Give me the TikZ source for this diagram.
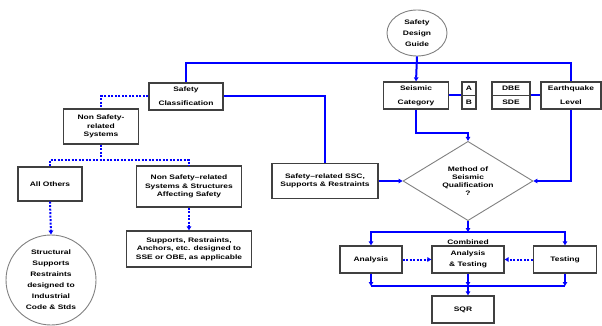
\documentclass[tikz,border=0pt]{standalone}
\usepackage{fontspec}
\setsansfont{Liberation Sans}[FakeStretch=1.3]
\usetikzlibrary{arrows,arrows.meta,shapes,positioning}
\definecolor{flowBlue}{RGB}{0,0,255}
\newcommand{\myBoxBorder}{black!75}
\newcommand{\myRoundBorder}{black!50}

\begin{document}
\begin{tikzpicture}[x=1pt,y=-1pt,>={Triangle[length=4pt,width=4.5pt]},
	Flow/.style={draw=flowBlue,line width=2pt},
	FlowArrow/.style={Flow,->},
	Dots/.style={draw=flowBlue,line width=2pt,dash pattern=on 2pt off 1.5pt},
	DotsArrow/.style={Dots,->},
	Box/.style={rectangle,fill=white,draw=\myBoxBorder,line width=1.3pt,align=center,inner sep=1pt,
		font=\fontsize{6.5}{8.5}\selectfont\sffamily\bfseries},
	WideLines/.style={font=\fontsize{6.5}{14}\selectfont\sffamily\bfseries},
	MidLines/.style={font=\fontsize{6.5}{11}\selectfont\sffamily\bfseries},
	Round/.style={fill=white,draw=\myRoundBorder,line width=0.9pt,align=center,inner sep=0pt,
		font=\fontsize{6.5}{11}\selectfont\sffamily\bfseries},
	Decision/.style={diamond,fill=white,draw=\myRoundBorder,line width=0.9pt,align=center,inner sep=0pt,
		font=\fontsize{6.5}{7.8}\selectfont\sffamily\bfseries},
]
	\useasboundingbox (0,0) rectangle (602,326);
	%\draw[help lines,step=10pt,gray!20] (0,0) grid (602,326);
	\node[Round,ellipse,minimum width=60pt,minimum height=46pt] (guide) at (417,33) {Safety\\Design\\Guide};
	\node[Box,WideLines,minimum width=74pt,minimum height=27pt] (sclass) at (186,96.5) {Safety\\Classification};
	\node[Box,WideLines,minimum width=65pt,minimum height=27pt] (seiscat) at (416,95.5) {Seismic\\Category};
	\node[Box,minimum width=14pt,minimum height=13.5pt] (catA) at (469,88.75) {A};
	\node[Box,minimum width=14pt,minimum height=13.5pt] (catB) at (469,102.25) {B};
	\node[Box,minimum width=38pt,minimum height=13.5pt] (dbe) at (511,88.75) {DBE};
	\node[Box,minimum width=38pt,minimum height=13.5pt] (sde) at (511,102.25) {SDE};
	\node[Box,WideLines,minimum width=60pt,minimum height=27pt] (eqlevel) at (571,95.5) {Earthquake\\Level};

	\node[Box,minimum width=75pt,minimum height=35pt] (nonsr) at (101,126.5) {Non Safety-\\related\\Systems};
	\node[Box,minimum width=64pt,minimum height=34pt] (others) at (50,184) {All Others};
	\node[Box,minimum width=105pt,minimum height=41pt] (affect) at (189,186.5) {Non Safety--related\\Systems \& Structures\\Affecting Safety};
	\node[Round,circle,minimum size=90pt] (industrial) at (51,280) {Structural\\Supports\\Restraints\\designed to\\Industrial\\Code \& Stds};
	\node[Box,minimum width=125pt,minimum height=36pt] (anchors) at (189,249) {Supports, Restraints,\\Anchors, etc. designed to\\SSE or OBE, as applicable};

	\node[Box,minimum width=106pt,minimum height=35pt] (ssc) at (325,181) {Safety--related SSC,\\Supports \& Restraints};
	\node[Decision,minimum width=130pt,minimum height=76pt] (method) at (468,181) {Method of\\Seismic\\Qualification\\?};

	\node[Box,minimum width=62pt,minimum height=27pt] (analysis) at (371,259.5) {Analysis};
	\node[Box,MidLines,minimum width=72pt,minimum height=27pt,
		label={[font=\fontsize{6.5}{8}\selectfont\sffamily\bfseries,inner sep=1pt]above:Combined}] (combined) at (468,259.5) {Analysis\\\& Testing};
	\node[Box,minimum width=63pt,minimum height=27pt] (testing) at (565,259.5) {Testing};
	\node[Box,minimum width=62pt,minimum height=27pt] (sqr) at (463,309.5) {SQR};

	\coordinate (topbus) at (417,63);
	\coordinate (catbend) at (468,133);
	\coordinate (nsrsplit) at (101,160);
	\coordinate (splitbus) at (468,232);
	\coordinate (mergebus) at (468,286);

	% seismic branch
	\draw[Flow] (sclass.north) |- (topbus) -| (eqlevel.north);
	\draw[FlowArrow] (guide.south) -- (seiscat.north);
	\draw[Flow] (seiscat.east) -- (seiscat.east -| catA.west);
	\draw[Flow] (sde.north east) -- (sde.north east -| eqlevel.west);
	\draw[FlowArrow] (seiscat.south) |- (catbend) -- (method.north);
	\draw[FlowArrow] (eqlevel.south) |- (method.east);
	\draw[Flow] (sclass.east) -| (ssc.north);
	\draw[FlowArrow] (ssc.east) -- (method.west);

	% non safety branch
	\draw[Dots] (sclass.west) -| (nonsr.north);
	\draw[Dots] (nonsr.south) -- (nsrsplit);
	\draw[Dots] (others.north) |- (nsrsplit) -| (affect.north);
	\draw[DotsArrow] (others.south) -- (industrial.north);
	\draw[DotsArrow] (affect.south) -- (affect.south |- anchors.north);

	% qualification
	\draw[FlowArrow] (method.south) -- (splitbus);
	\draw[FlowArrow] (splitbus) -| (analysis.north);
	\draw[FlowArrow] (splitbus) -| (testing.north);
	\draw[DotsArrow] (analysis.east) -- (combined.west);
	\draw[DotsArrow] (testing.west) -- (combined.east);
	\draw[Flow] (analysis.south |- mergebus) -- (testing.south |- mergebus);
	\draw[FlowArrow] (analysis.south) -- (analysis.south |- mergebus);
	\draw[FlowArrow] (testing.south) -- (testing.south |- mergebus);
	\draw[FlowArrow] (combined.south) -- (mergebus);
	\draw[FlowArrow] (mergebus) -- (mergebus |- sqr.north);
\end{tikzpicture}
\end{document}
